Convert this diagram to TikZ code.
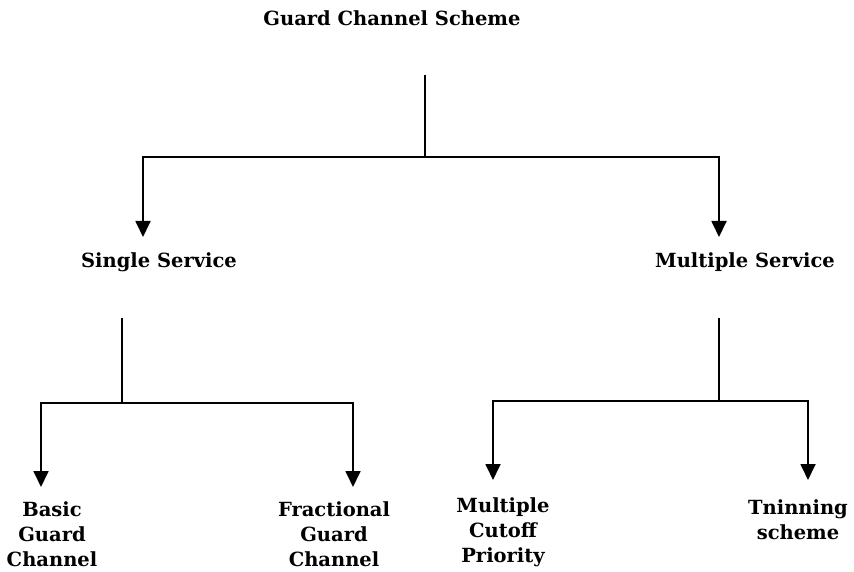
\documentclass[tikz,border=0pt]{standalone}
\usepackage{fontspec}
\setmainfont{DejaVu Serif}
\usetikzlibrary{arrows.meta}
\tikzset{
	every scheme/.style={
		font=\bfseries\fontsize{19.5}{25}\selectfont,
		align=center,
		inner sep=0pt
	},
	branch/.style={
		line width=1.8pt
	},
	drop/.style={
		branch,
		-{Triangle[length=16pt,width=15pt]}
	},
}

\begin{document}
\begin{tikzpicture}[x=1pt, y=-1pt]
\useasboundingbox (0,0) rectangle (854,572);

\node [every scheme] (scheme) at (392,18) {Guard Channel Scheme};

\foreach \m/\x/\t in {single/159/Single Service, multiple/745/Multiple Service}
	\node [every scheme] (\m) at (\x,262) {\t};

\foreach \m/\x/\y/\t in {basic/52/534/{Basic\\Guard\\Channel},
		fractional/334/534/{Fractional\\Guard\\Channel},
		cutoff/503/532/{Multiple\\Cutoff\\Priority},
		tninning/798/520/{Tninning\\scheme}}
	\node [every scheme] (\m) at (\x,\y) {\t};

% forks and arrow ends
\coordinate (scheme-stem) at (425,75);
\coordinate (scheme-fork) at (425,157);
\coordinate (single-in) at (143,237);
\coordinate (multiple-in) at (719,237);

\coordinate (single-stem) at (122,318);
\coordinate (single-fork) at (122,403);
\coordinate (basic-in) at (41,487);
\coordinate (fractional-in) at (353,487);

\coordinate (multiple-stem) at (719,318);
\coordinate (multiple-fork) at (719,401);
\coordinate (cutoff-in) at (493,480);
\coordinate (tninning-in) at (808,480);

\foreach \m/\a/\b in {scheme/single/multiple, single/basic/fractional, multiple/cutoff/tninning} {
	\draw [branch] (\m-stem) -- (\m-fork);
	\draw [drop] (\m-fork) -| (\a-in);
	\draw [drop] (\m-fork) -| (\b-in);
}

\end{tikzpicture}
\end{document}
